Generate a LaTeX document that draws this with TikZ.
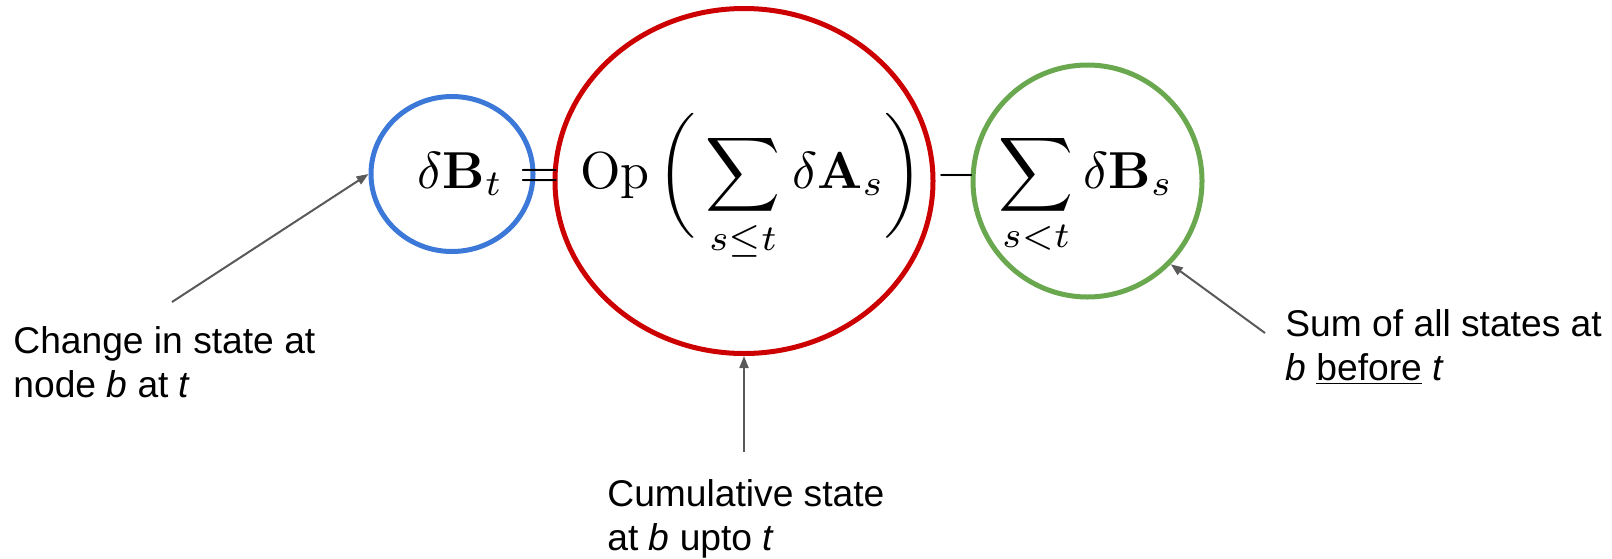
\documentclass[tikz,border=0pt]{standalone}
\usepackage[no-math]{fontspec}
\setmainfont{Liberation Sans}
\usetikzlibrary{arrows.meta, positioning, shapes.geometric}
\definecolor{ringblue}{HTML}{3C78D8}
\definecolor{ringred}{HTML}{CC0000}
\definecolor{ringgreen}{HTML}{6AA84F}
\definecolor{arrowgray}{HTML}{595959}
\newcommand{\bigmath}[1]{\scalebox{2.6}{$\displaystyle #1$}}
\tikzset{ring/.style={ellipse,draw,line width=2.5pt,inner sep=0pt},line/.style={-{Triangle[length=6pt,width=4.5pt]},draw=arrowgray,line width=1pt},note/.style={align=left,inner sep=0pt,anchor=north west,font=\fontsize{18.6}{22}\selectfont},term/.style={inner sep=0pt}}

\begin{document}
\begin{tikzpicture}[x=0.5pt,y=-0.5pt]
\useasboundingbox (0,0) rectangle (1612,558);
% rings round the three parts
\node[ring, draw=ringblue, minimum width=81pt, minimum height=77.5pt] (blue) at (452,174) {};
\node[ring, draw=ringred, minimum width=189pt, minimum height=172.5pt] (red) at (744,181) {};
\node[ring, draw=ringgreen, minimum width=114.5pt, minimum height=116pt] (green) at (1087.5,181) {};
% the formula
\node[term, anchor=base west] (dbt) at (417,188) {\bigmath{\delta\mathbf{B}_t}};
\node[term, anchor=base] (eq) at (540,188) {\bigmath{=}};
\node[term, anchor=base west] (op) at (580,188) {\bigmath{\mathrm{Op}}};
\node[term] (lpar) at (677,176) {\bigmath{\biggl(}};
\node[term, anchor=base west] (suma) at (705,188) {\bigmath{\sum_{s\leq t}}};
\node[term, anchor=base west] (das) at (792,188) {\bigmath{\delta\mathbf{A}_s}};
\node[term] (rpar) at (904,176) {\bigmath{\biggr)}};
\node[term, anchor=base] (minus) at (957,188) {\bigmath{-}};
\node[term, anchor=base west] (sumb) at (998,188) {\bigmath{\sum_{s<t}}};
\node[term, anchor=base west] (dbs) at (1083,188) {\bigmath{\delta\mathbf{B}_s}};
% notes
\node[note] (nblue) at (13,326) {Change in state at\\node \textit{b} at \textit{t}};
\node[note] (nred) at (607,479) {Cumulative state\\at \textit{b} upto \textit{t}};
\node[note] (ngreen) at (1285,309) {Sum of all states at\\\textit{b} \underline{before} \textit{t}};
\coordinate (tblue) at (172,302);
\coordinate (tred) at (744,452);
\coordinate (tgreen) at (1265,333);
\draw[line] (tblue) -- (blue.west);
\draw[line] (tred) -- (red.south);
\draw[line] (tgreen) -- (green.-45);
\end{tikzpicture}
\end{document}
